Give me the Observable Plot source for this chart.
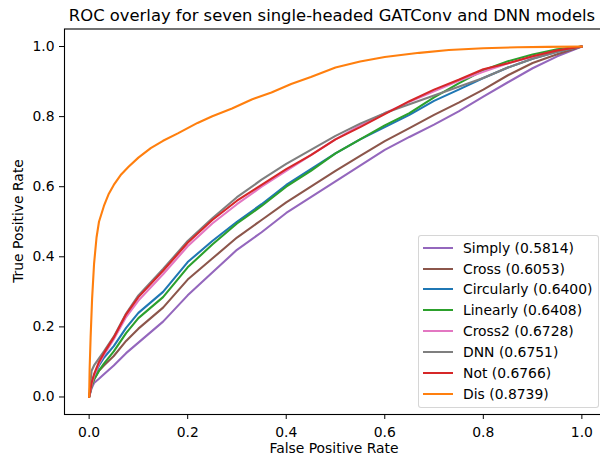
<!DOCTYPE html>
<html><head><meta charset="utf-8">
<script src="https://cdn.jsdelivr.net/npm/d3@7"></script>
<script src="https://cdn.jsdelivr.net/npm/@observablehq/plot@0.6"></script>
<style>
body{margin:0;background:#fff;}
#wrap{position:relative;width:600px;height:456px;overflow:hidden;font-family:"DejaVu Sans",sans-serif;}
#legend{position:absolute;left:418px;top:235px;width:181px;height:173px;box-sizing:border-box;border:1px solid rgba(204,204,204,0.8);border-radius:3px;background:rgba(255,255,255,0.8);}
.row{position:absolute;left:0;height:20px;font-size:13.9px;line-height:20px;color:#000;white-space:nowrap;font-family:"DejaVu Sans",sans-serif;}
.sw{position:absolute;left:4px;top:9px;width:30px;height:2px;}
.lab{position:absolute;left:44px;top:0;}
</style>
</head><body>
<div id="wrap"></div>
<script>
// ---- data ----
const modelNames = ["Simply", "Cross", "Circularly", "Linearly", "Cross2", "DNN", "Not", "Dis"];
const modelAUC = [0.5814, 0.6053, 0.6400, 0.6408, 0.6728, 0.6751, 0.6766, 0.8739];
const modelColors = ["#9467bd", "#8c564b", "#1f77b4", "#2ca02c", "#e377c2", "#7f7f7f", "#d62728", "#ff7f0e"];
const xTicks = [0, 0.2, 0.4, 0.6, 0.8, 1.0];
const yTicks = [0, 0.2, 0.4, 0.6, 0.8, 1.0];

// shared false-positive-rate grid for the six GATConv curves and the DNN curve
const fpr = [0, 0.005, 0.01, 0.02, 0.03, 0.05, 0.075, 0.1, 0.15, 0.2, 0.25, 0.3, 0.35, 0.4, 0.45, 0.5, 0.55, 0.6, 0.65, 0.7, 0.75, 0.8, 0.85, 0.9, 0.95, 1];
const tprSimply     = [0, 0.025, 0.04, 0.052, 0.065, 0.09, 0.125, 0.155, 0.215, 0.29, 0.355, 0.42, 0.47, 0.525, 0.57, 0.615, 0.66, 0.705, 0.742, 0.777, 0.815, 0.857, 0.898, 0.938, 0.972, 1];
const tprCross      = [0, 0.035, 0.05, 0.075, 0.09, 0.117, 0.16, 0.195, 0.255, 0.335, 0.395, 0.455, 0.505, 0.555, 0.6, 0.645, 0.688, 0.73, 0.767, 0.805, 0.84, 0.877, 0.918, 0.953, 0.978, 1];
const tprCircularly = [0, 0.04, 0.06, 0.09, 0.112, 0.145, 0.197, 0.24, 0.3, 0.385, 0.445, 0.5, 0.55, 0.605, 0.65, 0.695, 0.735, 0.77, 0.805, 0.845, 0.877, 0.91, 0.94, 0.965, 0.985, 1];
const tprLinearly   = [0, 0.03, 0.05, 0.075, 0.095, 0.13, 0.182, 0.225, 0.285, 0.37, 0.435, 0.495, 0.545, 0.6, 0.645, 0.695, 0.735, 0.775, 0.81, 0.855, 0.895, 0.932, 0.958, 0.977, 0.992, 1];
const tprCross2     = [0, 0.035, 0.06, 0.095, 0.12, 0.165, 0.228, 0.275, 0.35, 0.43, 0.495, 0.55, 0.6, 0.645, 0.69, 0.735, 0.775, 0.81, 0.842, 0.872, 0.902, 0.928, 0.952, 0.971, 0.988, 1];
const tprDNN        = [0, 0.075, 0.09, 0.11, 0.13, 0.172, 0.238, 0.29, 0.365, 0.445, 0.51, 0.57, 0.62, 0.665, 0.705, 0.745, 0.78, 0.81, 0.835, 0.86, 0.885, 0.91, 0.94, 0.965, 0.985, 1];
const tprNot        = [0, 0.04, 0.065, 0.1, 0.125, 0.17, 0.236, 0.285, 0.36, 0.44, 0.505, 0.56, 0.605, 0.65, 0.69, 0.735, 0.77, 0.807, 0.844, 0.877, 0.905, 0.935, 0.952, 0.972, 0.989, 1];
// Dis curve has its own grid (steep start)
const fprDis = [0, 0.001, 0.003, 0.006, 0.01, 0.015, 0.02, 0.03, 0.04, 0.05, 0.065, 0.08, 0.1, 0.125, 0.15, 0.18, 0.22, 0.25, 0.29, 0.33, 0.37, 0.41, 0.45, 0.5, 0.55, 0.6, 0.67, 0.73, 0.8, 0.87, 0.93, 1.0];
const tprDis = [0, 0.08, 0.17, 0.28, 0.38, 0.455, 0.5, 0.545, 0.58, 0.605, 0.635, 0.657, 0.683, 0.71, 0.731, 0.752, 0.782, 0.801, 0.823, 0.849, 0.869, 0.893, 0.913, 0.94, 0.957, 0.97, 0.982, 0.99, 0.995, 0.998, 0.999, 1.0];

const titleText = "ROC overlay for seven single-headed GATConv and DNN models";
const xLabel = "False Positive Rate";
const yLabel = "True Positive Rate";

// ---- build table ----
const tprSeries = [tprSimply, tprCross, tprCircularly, tprLinearly, tprCross2, tprDNN, tprNot, tprDis];
const rows = [];
modelNames.forEach((name, i) => {
  const xs = name === "Dis" ? fprDis : fpr;
  const ys = tprSeries[i];
  xs.forEach((x, j) => rows.push({model: name, fpr: x, tpr: ys[j]}));
});

const fmt = d3.format(".1f");
const chart = Plot.plot({
  width: 600, height: 456,
  marginLeft: 64, marginRight: -6, marginTop: 28.5, marginBottom: 42,
  style: {fontFamily: "DejaVu Sans, sans-serif", fontSize: "13.9px", background: "white", color: "black"},
  x: {domain: [-0.05, 1.05], ticks: xTicks, tickFormat: fmt, tickSize: 5, tickPadding: 7.6, label: null},
  y: {domain: [-0.05, 1.05], ticks: yTicks, tickFormat: fmt, tickSize: 5, tickPadding: 5, label: null},
  color: {domain: modelNames, range: modelColors},
  marks: [
    Plot.line(rows, {x: "fpr", y: "tpr", z: "model", stroke: "model", strokeWidth: 2.1}),
    Plot.frame({stroke: "black", strokeWidth: 1.1})
  ]
});

const svg = d3.select(chart);
svg.append("text").attr("x", 332).attr("y", 20.5).attr("text-anchor", "middle")
  .attr("font-size", "16.4px").attr("fill", "black").text(titleText);
svg.append("text").attr("x", 334).attr("y", 452.5).attr("text-anchor", "middle")
  .attr("font-size", "13.9px").attr("fill", "black").text(xLabel);
svg.append("text").attr("transform", "translate(23,221) rotate(-90)").attr("text-anchor", "middle")
  .attr("font-size", "13.9px").attr("fill", "black").text(yLabel);

const wrap = document.getElementById("wrap");
wrap.appendChild(chart);

// ---- legend ----
const legend = document.createElement("div");
legend.id = "legend";
modelNames.forEach((name, i) => {
  const row = document.createElement("div");
  row.className = "row";
  row.style.top = Math.round(1.6 + 20.94 * i) + "px";
  const sw = document.createElement("div");
  sw.className = "sw";
  sw.style.background = modelColors[i];
  const lab = document.createElement("span");
  lab.className = "lab";
  lab.textContent = `${name} (${modelAUC[i].toFixed(4)})`;
  row.appendChild(sw); row.appendChild(lab);
  legend.appendChild(row);
});
wrap.appendChild(legend);
</script>
</body></html>
